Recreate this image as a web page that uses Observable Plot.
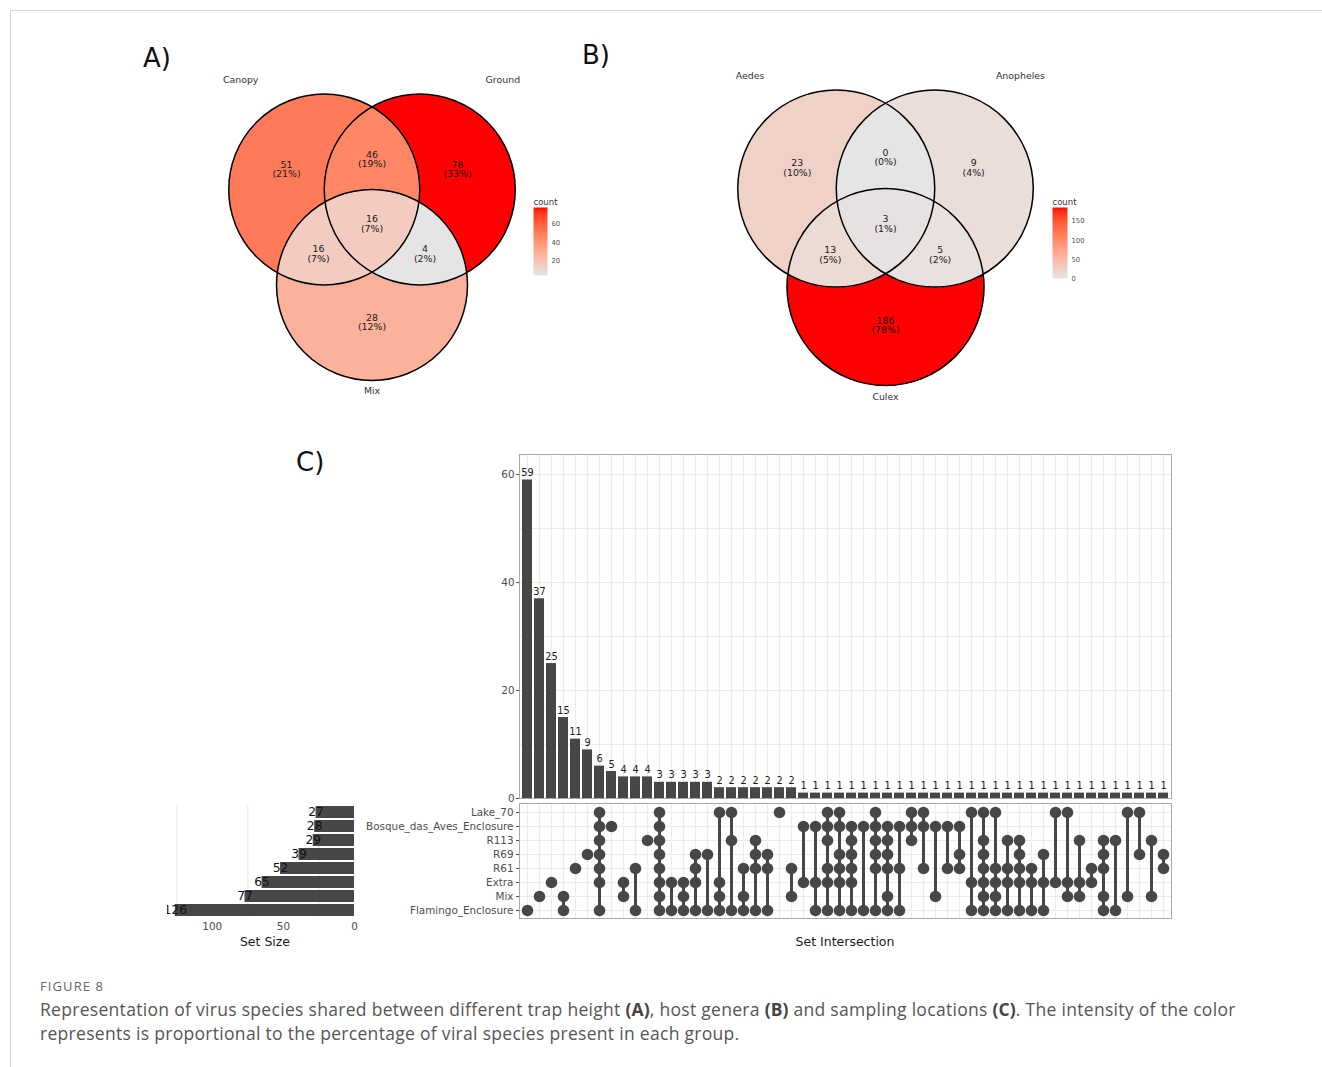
<!DOCTYPE html>
<html>
<head>
<meta charset="utf-8">
<script src="https://cdn.jsdelivr.net/npm/d3@7"></script>
<script src="https://cdn.jsdelivr.net/npm/@observablehq/plot@0.6"></script>
<style>
  body { margin: 0; background: #fff; }
  #page { position: relative; width: 1322px; height: 1067px; overflow: hidden; background: #fff; font-family: "DejaVu Sans", sans-serif; }
  #page svg { position: absolute; max-width: none; overflow: visible; }
  .lbl { position: absolute; white-space: nowrap; }
  .panel { font-family: "DejaVu Sans", sans-serif; font-size: 26px; line-height: 26px; color: #111; }
  .axtitle { font-family: "DejaVu Sans", sans-serif; font-size: 12.5px; line-height: 14px; color: #1a1a1a; text-align: center; width: 200px; }
  #frame { position: absolute; left: 10px; top: 10px; width: 1330px; height: 1080px; border-top: 1px solid #d6d6d6; border-left: 1px solid #d6d6d6; }
  #figlabel { position: absolute; left: 40px; top: 978px; font-family: "Open Sans", sans-serif; font-size: 13px; line-height: 16px; letter-spacing: 1.1px; color: #666; }
  #caption { position: absolute; left: 40px; top: 997px; width: 1260px; font-family: "Open Sans", sans-serif; font-size: 17.5px; line-height: 24px; letter-spacing: 0.3px; color: #555; white-space: nowrap; }
  #caption b { color: #444; letter-spacing: 0.1px; }
</style>
</head>
<body>
<div id="page">
  <div id="frame"></div>
  <div class="lbl panel" style="left:143px;top:45px;">A)</div>
  <div class="lbl panel" style="left:582px;top:42px;">B)</div>
  <div class="lbl panel" style="left:296px;top:449px;">C)</div>
  <div class="lbl axtitle" style="left:165px;top:935px;">Set Size</div>
  <div class="lbl axtitle" style="left:745px;top:935px;">Set Intersection</div>
  <div id="figlabel">FIGURE 8</div>
  <div id="caption">Representation of virus species shared between different trap height <b>(A)</b>, host genera <b>(B)</b> and sampling locations <b>(C)</b>. The intensity of the color<br>represents is proportional to the percentage of viral species present in each group.</div>
</div>
<script>
// ---------------- DATA ----------------
// Panel A: trap height (regions: A only, B only, C only, A&B, A&C, B&C, A&B&C)
const heightSets = ["Canopy", "Ground", "Mix"];
const heightCounts = [51, 78, 28, 46, 16, 4, 16];
const heightLegendTicks = [20, 40, 60];

// Panel B: host genera
const genusSets = ["Aedes", "Anopheles", "Culex"];
const genusCounts = [23, 9, 186, 0, 13, 5, 3];
const genusLegendTicks = [0, 50, 100, 150];

// Panel C: sampling locations (UpSet)
const locations = ["Lake_70", "Bosque_das_Aves_Enclosure", "R113", "R69", "R61", "Extra", "Mix", "Flamingo_Enclosure"];
const setSizes = [27, 28, 29, 39, 52, 65, 77, 126];
const locationCodes = { L: "Lake_70", B: "Bosque_das_Aves_Enclosure", R113: "R113", R69: "R69", R61: "R61", E: "Extra", M: "Mix", F: "Flamingo_Enclosure" };
const intersectionSizes = [59, 37, 25, 15, 11, 9, 6, 5, 4, 4, 4, 3, 3, 3, 3, 3, 2, 2, 2, 2, 2, 2, 2,
  1, 1, 1, 1, 1, 1, 1, 1, 1, 1, 1, 1, 1, 1, 1, 1, 1, 1, 1, 1, 1, 1, 1, 1, 1, 1, 1, 1, 1, 1, 1];
const intersectionMembers = [
  "F", "M", "E", "M F", "R61", "R69", "L B R113 R69 R61 E F", "B", "E M", "R61 F", "R113",
  "L B R113 R69 R61 E M F", "E F", "E M F", "R69 R61 E F", "R69 F", "L E M F", "L R113 F",
  "R61 M F", "R113 R69 R61 F", "R69 R61 F", "L", "R61 M", "B E", "B E F",
  "L B R113 R61 E F", "L B R69 R61 E F", "B R113 R69 R61 E F", "B F", "L B R113 R69 R61 F",
  "B R113 R69 R61 M F", "B R61 F", "L B R113", "L B R61", "B M", "B R61", "B R69 R61",
  "L E F", "L R113 R69 R61 E M F", "L R61 E M F", "R113 R61 E F", "R113 R69 R61 E F",
  "R61 E F", "R69 E F", "L E", "L E M", "R113 E M", "R61 E", "R113 R69 R61 M F", "R113 F",
  "L M", "L R69", "R113 M", "R69 R61"
];
const intersectionTicks = [0, 20, 40, 60];
const intersectionGrid = [0, 10, 20, 30, 40, 50, 60];
const setSizeTicks = [100, 50, 0];
const setSizeGrid = [25, 75, 125];

// ---------------- LAYOUT (venn geometry in circle-radius units) ----------------
const circleCenters = [{ u: -0.5, v: 0 }, { u: 0.5, v: 0 }, { u: 0, v: -1 }];
const regionMasks = [1, 2, 4, 3, 5, 6, 7];
const regionLabelPos = [[-0.895, 0.21], [0.895, 0.21], [0, -1.39], [0, 0.315], [-0.56, -0.675], [0.555, -0.675], [0, -0.36]];
const setLabelPos = [[-1.375, 1.145], [1.37, 1.145], [0, -2.115]];

const page = document.getElementById("page");
const FONT = "DejaVu Sans";
const DARK = "#474747";
const GRID = "#ebebeb";
const AXIS_FS = 10.4;

function place(el, left, top) {
  el.style.left = left + "px";
  el.style.top = top + "px";
  page.appendChild(el);
}
function colorOpts(domain) {
  return { type: "linear", domain, range: ["#e5e5e5", "#ff0000"], interpolate: d3.interpolateLab, unknown: "#ffffff" };
}
const baseStyle = { background: "transparent", fontFamily: FONT, overflow: "visible" };

function venn({ left, top, width, height, cx, cy, R, sets, counts }) {
  const total = d3.sum(counts);
  const maskIndex = new Map(regionMasks.map((m, i) => [m, i]));
  const regions = counts.map((c, i) => ({ u: regionLabelPos[i][0], v: regionLabelPos[i][1], label: `${c}\n(${Math.round(c / total * 100)}%)` }));
  const setLabels = sets.map((s, i) => ({ s, u: setLabelPos[i][0], v: setLabelPos[i][1] }));
  const fillAt = (u, v) => {
    let m = 0;
    circleCenters.forEach((c, k) => { if ((u - c.u) ** 2 + (v - c.v) ** 2 <= 1) m |= (1 << k); });
    return m ? counts[maskIndex.get(m)] : NaN;
  };
  const svg = Plot.plot({
    width, height, margin: 0,
    x: { domain: [(left - cx) / R, (left + width - cx) / R], range: [0, width], axis: null },
    y: { domain: [(cy - top - height) / R, (cy - top) / R], range: [height, 0], axis: null },
    color: colorOpts(d3.extent(counts)),
    style: baseStyle,
    marks: [
      Plot.raster({ x1: -1.53, x2: 1.53, y1: -2.03, y2: 1.03, fill: fillAt, pixelSize: 1 }),
      Plot.dot(circleCenters, { x: "u", y: "v", r: R, stroke: "#000", strokeWidth: 1.5, fill: "none" }),
      Plot.text(regions, { x: "u", y: "v", text: "label", fontSize: 9.4, fill: "#1a1a1a", lineHeight: 1.0 }),
      Plot.text(setLabels, { x: "u", y: "v", text: "s", fontSize: 9.4, fill: "#333" })
    ]
  });
  place(svg, left, top);
}

function vennLegend({ left, top, barWidth, barTop, barBottom, counts, ticks }) {
  const width = 50, height = 100;
  const dom = d3.extent(counts);
  const svg = Plot.plot({
    width, height,
    marginLeft: 8, marginRight: width - 8 - barWidth, marginTop: barTop - top, marginBottom: height - (barBottom - top),
    x: { domain: [0, 1], axis: null },
    y: { domain: dom, axis: null },
    color: colorOpts(dom),
    style: baseStyle,
    marks: [
      Plot.raster({ x1: 0, x2: 1, y1: dom[0], y2: dom[1], fill: (x, y) => y, pixelSize: 1 }),
      Plot.axisY({ anchor: "right", ticks, tickSize: 0, tickPadding: 4, fontSize: 6.8, color: "#4d4d4d", label: null }),
      Plot.text(["count"], { frameAnchor: "top-left", dy: -9, textAnchor: "start", fontSize: 8.5, fill: "#333" })
    ]
  });
  place(svg, left, top);
}

venn({ left: 140, top: 60, width: 390, height: 350, cx: 371.5, cy: 189, R: 95.5, sets: heightSets, counts: heightCounts });
vennLegend({ left: 525, top: 185, barWidth: 14, barTop: 207, barBottom: 275, counts: heightCounts, ticks: heightLegendTicks });
venn({ left: 680, top: 60, width: 370, height: 350, cx: 885, cy: 188, R: 98.5, sets: genusSets, counts: genusCounts });
vennLegend({ left: 1044, top: 185, barWidth: 15, barTop: 207, barBottom: 278, counts: genusCounts, ticks: genusLegendTicks });

// ---------------- UPSET ----------------
const interData = intersectionSizes.map((size, i) => ({
  i, size,
  members: intersectionMembers[i].split(" ").map(c => locationCodes[c]).sort((a, b) => locations.indexOf(a) - locations.indexOf(b))
}));
const colIdx = interData.map(d => d.i);
const xBand = { type: "band", domain: colIdx, paddingInner: 0.15, paddingOuter: 0.175, axis: null };

const mainBars = Plot.plot({
  width: 720, height: 360, marginLeft: 59, marginRight: 9, marginTop: 14, marginBottom: 2,
  x: xBand,
  y: { domain: [0, d3.max(intersectionSizes) * 1.08], axis: null },
  style: baseStyle,
  marks: [
    Plot.ruleY(intersectionGrid, { stroke: GRID, strokeWidth: 1 }),
    Plot.ruleX(colIdx, { stroke: GRID, strokeWidth: 1.2 }),
    Plot.barY(interData, { x: "i", y: "size", fill: DARK }),
    Plot.text(interData, { x: "i", y: "size", text: "size", dy: -4, lineAnchor: "bottom", fontSize: 9.8, fill: "#1a1a1a" }),
    Plot.axisY({ ticks: intersectionTicks, tickSize: 3, tickPadding: 2, fontSize: AXIS_FS, color: "#4d4d4d", label: null }),
    Plot.frame({ stroke: "#a8a8a8" })
  ]
});
place(mainBars, 460, 440);

const matrixPoints = interData.flatMap(d => d.members.map(loc => ({ i: d.i, loc })));
const matrixLinks = interData.filter(d => d.members.length > 1).map(d => ({ i: d.i, from: d.members[0], to: d.members[d.members.length - 1] }));
const matrix = Plot.plot({
  width: 840, height: 120, marginLeft: 179, marginRight: 9, marginTop: 3, marginBottom: 2,
  x: xBand,
  y: { type: "point", domain: locations, padding: 0.6, axis: null },
  style: baseStyle,
  marks: [
    Plot.ruleX(colIdx, { stroke: GRID, strokeWidth: 1.2 }),
    Plot.ruleY(locations, { y: d => d, stroke: GRID, strokeWidth: 1.2 }),
    Plot.ruleX(matrixLinks, { x: "i", y1: "from", y2: "to", stroke: DARK, strokeWidth: 3 }),
    Plot.dot(matrixPoints, { x: "i", y: "loc", r: 5.8, fill: DARK }),
    Plot.axisY({ tickSize: 3, tickPadding: 3, fontSize: AXIS_FS, color: "#4d4d4d", label: null }),
    Plot.frame({ stroke: "#a8a8a8" })
  ]
});
place(matrix, 340, 800);

const setData = locations.map((loc, k) => ({ loc, size: setSizes[k] }));
const setPlot = Plot.plot({
  width: 215, height: 160, marginLeft: 17, marginRight: 11, marginTop: 7, marginBottom: 41,
  x: { domain: [131.5, 0], axis: null },
  y: { type: "band", domain: locations, paddingInner: 0.12, paddingOuter: 0.06, axis: null },
  style: baseStyle,
  marks: [
    Plot.ruleX(setSizeGrid, { stroke: GRID, strokeWidth: 1.2 }),
    Plot.barX(setData, { x: "size", y: "loc", fill: DARK }),
    Plot.text(setData, { x: "size", y: "loc", text: "size", fontSize: 12.3, fill: "#111", clip: true }),
    Plot.axisX({ ticks: setSizeTicks, tickSize: 0, tickPadding: 5, fontSize: AXIS_FS, color: "#4d4d4d", label: null })
  ]
});
place(setPlot, 150, 798);
</script>
</body>
</html>
